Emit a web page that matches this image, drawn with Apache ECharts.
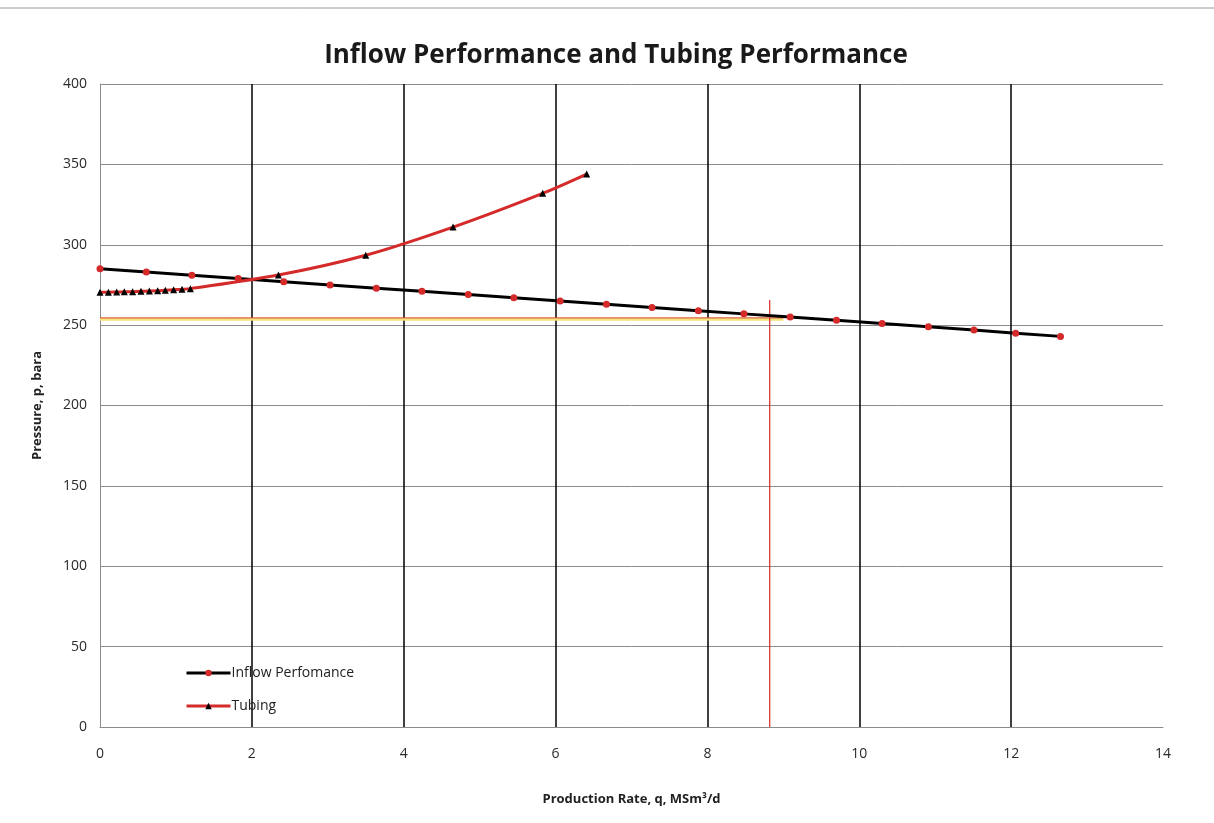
<!DOCTYPE html>
<html>
<head>
<meta charset="utf-8">
<script src="https://cdn.jsdelivr.net/npm/echarts@6/dist/echarts.min.js"></script>
<style>
html,body{margin:0;padding:0;background:#fff;}
#chart{width:1214px;height:823px;}
</style>
</head>
<body>
<div id="chart"></div>
<script>
// Inflow performance (IPR) points
const inflowQ = [0, 0.61, 1.21, 1.82, 2.42, 3.03, 3.64, 4.24, 4.85, 5.45, 6.06, 6.67, 7.27, 7.88, 8.48, 9.09, 9.7, 10.3, 10.91, 11.51, 12.06, 12.65];
const inflowP = [285, 283, 281, 279, 277, 275, 273, 271, 269, 267, 265, 263, 261, 259, 257, 255, 253, 251, 249, 247, 245, 243];
// Tubing performance points
const tubingQ = [0, 0.11, 0.22, 0.32, 0.43, 0.54, 0.65, 0.76, 0.86, 0.97, 1.08, 1.19, 2.35, 3.5, 4.65, 5.83, 6.41];
const tubingP = [270.5, 270.5, 270.6, 270.7, 270.8, 271, 271.2, 271.4, 271.7, 272, 272.3, 272.7, 281.2, 293.5, 311, 332, 344];
// Operating point guide lines
const opHorizQ = [0, 9.0];
const opHorizP = [254.5, 254.5];
const opVertQ = [8.82, 8.82];
const opVertP = [0, 265.6];
// Axis ticks
const xTicks = [0, 2, 4, 6, 8, 10, 12, 14];
const yTicks = [0, 50, 100, 150, 200, 250, 300, 350, 400];

const zip = (a, b) => a.map((v, i) => [v, b[i]]);
const font = '"Open Sans", "Noto Sans", sans-serif';

const chart = echarts.init(document.getElementById('chart'), null, {renderer: 'canvas'});
chart.setOption({
  backgroundColor: '#ffffff',
  animation: false,
  title: {
    text: 'Inflow Performance and Tubing Performance',
    left: 611, top: 38, textAlign: 'center',
    textStyle: {fontFamily: font, fontSize: 26, fontWeight: 'bold', color: '#1a1a1a'}
  },
  graphic: [{
    type: 'line', shape: {x1: 0, y1: 8, x2: 1214, y2: 8},
    style: {stroke: '#9a9a9a', lineWidth: 1}
  }],
  legend: {
    data: ['Inflow Perfomance', 'Tubing'],
    orient: 'vertical', left: 180, top: 661, itemGap: 19,
    itemWidth: 44, itemHeight: 8,
    lineStyle: {width: 3},
    textStyle: {fontFamily: font, fontSize: 14, color: '#222', padding: [0, 0, 0, -4]}
  },
  grid: {left: 100, right: 51, top: 84, bottom: 96, containLabel: false},
  xAxis: {
    type: 'value', min: 0, max: 14, interval: 2,
    name: 'Production Rate, q, MSm³/d', nameLocation: 'middle', nameGap: 66,
    nameTextStyle: {fontFamily: font, fontSize: 13, fontWeight: 'bold', color: '#222'},
    axisLine: {show: true, lineStyle: {color: '#8c8c8c', width: 1}},
    axisTick: {show: false},
    axisLabel: {fontFamily: font, fontSize: 14, color: '#2a2a2a', margin: 20},
    splitLine: {show: true, showMinLine: false, showMaxLine: false, lineStyle: {color: '#000', width: 1.5}}
  },
  yAxis: {
    type: 'value', min: 0, max: 400, interval: 50,
    name: 'Pressure, p, bara', nameLocation: 'middle', nameGap: 56,
    nameTextStyle: {fontFamily: font, fontSize: 13, fontWeight: 'bold', color: '#222'},
    axisLine: {show: true, lineStyle: {color: '#8c8c8c', width: 1}},
    axisTick: {show: false},
    axisLabel: {fontFamily: font, fontSize: 14, color: '#2a2a2a', margin: 13},
    splitLine: {show: true, lineStyle: {color: '#8c8c8c', width: 1}}
  },
  series: [
    {
      name: 'opHorizGlow', type: 'line', data: zip(opHorizQ, opHorizP.map(v => v - 0.9)),
      symbol: 'none', silent: true, lineStyle: {color: '#f5e27a', width: 3}, z: 1
    },
    {
      name: 'opHoriz', type: 'line', data: zip(opHorizQ, opHorizP),
      symbol: 'none', silent: true, lineStyle: {color: '#d9442e', width: 1}, z: 1
    },
    {
      name: 'opVert', type: 'line', data: zip(opVertQ, opVertP),
      symbol: 'none', silent: true, lineStyle: {color: '#d83a3a', width: 1.3}, z: 1
    },
    {
      name: 'Inflow Perfomance', type: 'line', data: zip(inflowQ, inflowP),
      symbol: 'circle', symbolSize: 7,
      lineStyle: {color: '#000', width: 3},
      itemStyle: {color: '#d42a2a'}, z: 3
    },
    {
      name: 'Tubing', type: 'line', data: zip(tubingQ, tubingP), smooth: 0.3,
      symbol: 'triangle', symbolSize: 7,
      lineStyle: {color: '#d42a2a', width: 3},
      itemStyle: {color: '#000'}, z: 4
    }
  ]
});
</script>
</body>
</html>
